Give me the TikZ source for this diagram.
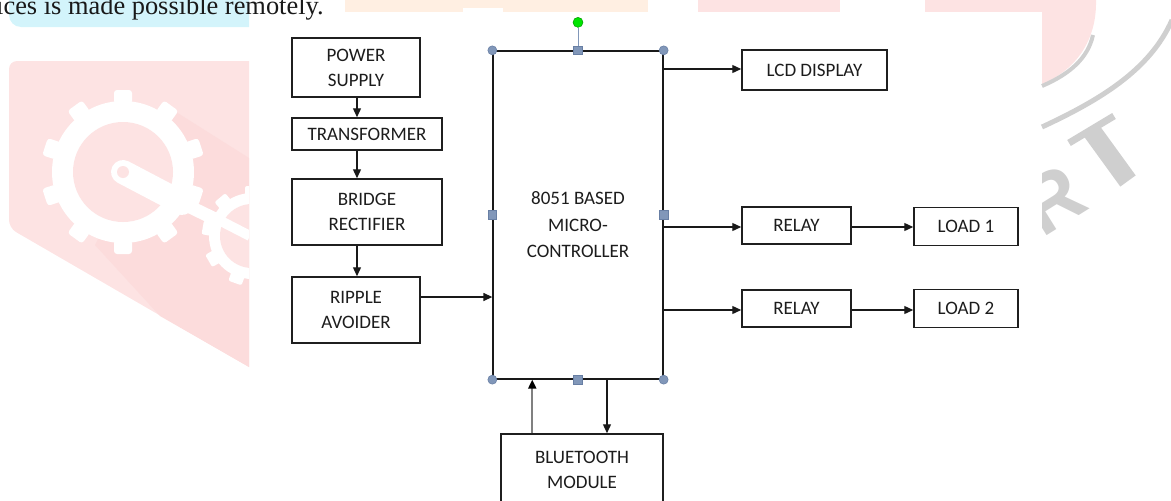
\documentclass[tikz,border=0pt]{standalone}
\usepackage{fontspec}
\setmainfont{Carlito}
\newfontfamily\serifw{Liberation Serif}
\newfontfamily\logof{Liberation Sans}
\usetikzlibrary{arrows.meta,calc}
\definecolor{wmpink}{HTML}{FDE3E3}
\definecolor{wmshade}{HTML}{FCDCDC}
\definecolor{wmblue}{HTML}{D3F4FB}
\definecolor{wmorange}{HTML}{FFEFE2}
\definecolor{wmgray}{HTML}{CFCFCF}
\definecolor{hfill}{HTML}{8197B9}
\definecolor{hdraw}{HTML}{687FA4}
\definecolor{hgreen}{HTML}{00E400}
\definecolor{txt}{HTML}{1C1C1C}
\begin{document}
\begin{tikzpicture}[x=1pt,y=-1pt,
  box/.style={draw=black!88, line width=1.5pt, align=center, text=txt,
    font=\fontsize{19}{25}\selectfont, inner sep=0pt},
  lbl/.style={align=center, text=txt, font=\fontsize{19}{26.5}\selectfont, inner sep=0pt},
  arr/.style={line width=1.3pt, draw=black!90, -{Triangle[length=9pt,width=8pt]}},
  grayarr/.style={line width=2pt, draw=black!50, -{Triangle[length=9pt,width=8pt,color=black]}},
  hcirc/.style={circle, fill=hfill, draw=hdraw, line width=0.6pt, minimum size=9pt, inner sep=0pt},
  hsq/.style={rectangle, fill=hfill, draw=hdraw, line width=0.6pt, minimum size=8.5pt, inner sep=0pt},
  hrot/.style={circle, fill=hgreen, draw=green!60!black, line width=0.5pt, minimum size=10pt, inner sep=0pt}]
\useasboundingbox (0,0) rectangle (1171,501);

% ---------- watermark background ----------
\begin{scope}
  \clip (9,0) rectangle (249,501);
  \fill[wmblue, rounded corners=12pt] (9,-20) rectangle (300,27);
  \fill[wmpink, rounded corners=8pt] (300,61) -- (9,61) -- (9,228) -- (249,367) -- (300,396) -- cycle;
  \fill[wmshade] (165,105) -- (249,158) -- (249,367) -- (160,316) -- (95,245) -- cycle;
  % big gear
  \fill[white] (123,172) circle (71);
  \foreach \a in {0,36,...,324}
    \fill[white, rounded corners=3pt, rotate around={\a:(123,172)}] (114,90) rectangle (132,104);
  \fill[wmpink] (123,172) circle (50);
  \draw[white, line width=24pt, line cap=round] (123,172) -- (182,203);
  \draw[white, line width=13pt] (182,203) -- (250,236);
  \fill[wmpink] (123,172) circle (6);
  % small gear
  \fill[white] (252,236) circle (43);
  \foreach \a in {0,40,...,320}
    \fill[white, rounded corners=2pt, rotate around={\a:(252,236)}] (245,186) rectangle (259,196);
  \fill[wmpink] (252,236) circle (32);
  \draw[white, line width=10pt] (215,218) -- (250,236);
\end{scope}
\fill[wmorange] (345,0) rectangle (648,12);
\fill[white] (463,8) rectangle (503,12);
\fill[wmpink] (698,0) rectangle (840,12);
\fill[wmpink] (925,0) rectangle (1042,12);
\fill[wmpink] (1042,0) -- (1096,0) .. controls (1097,40) and (1076,70) .. (1042,84) -- cycle;
\draw[wmgray, line width=4pt] (1093,35) .. controls (1088,58) and (1070,74) .. (1042,86);
\draw[wmgray, line width=5pt] (1042,127) .. controls (1100,100) and (1150,70) .. (1172,20);
\begin{scope}
  \clip (1042,12) rectangle (1171,501);
  \node[rotate=32, text=wmgray, inner sep=0pt, font=\logof\bfseries\fontsize{80}{80}\selectfont] (rr) at (1052,200) {R};
  \draw[wmgray, line width=19pt] (1091,130) -- (1128,181);
  \draw[wmgray, line width=7pt] (1069,143) -- (1114,116);
\end{scope}
\node[anchor=base west, inner sep=0pt, text=black!90, font=\serifw\fontsize{26.4}{30}\selectfont] (toptext) at (-4,14) {ices is made possible remotely.};

% ---------- blocks ----------
\node[box, minimum width=128pt, minimum height=59pt] (ps) at (356,67.5) {POWER\\SUPPLY};
\node[box, minimum width=150pt, minimum height=32pt] (tr) at (367,134) {TRANSFORMER};
\node[box, minimum width=150pt, minimum height=66pt] (br) at (367,212) {BRIDGE\\RECTIFIER};
\node[box, minimum width=128pt, minimum height=66pt] (ra) at (356,310) {RIPPLE\\AVOIDER};
\node[draw=black!90, line width=1.3pt, minimum width=170pt, minimum height=328pt, inner sep=0pt] (mcu) at (578,215) {};
\node[lbl] (mcut) at (578,225) {8051 BASED\\MICRO-\\CONTROLLER};
\node[box, minimum width=145pt, minimum height=40pt] (lcd) at (814.5,70) {LCD DISPLAY};
\node[box, minimum width=109pt, minimum height=37pt] (r1) at (796.5,225.5) {RELAY};
\node[box, minimum width=104pt, minimum height=38pt] (l1) at (966,226.5) {LOAD 1};
\node[box, minimum width=109pt, minimum height=37pt] (r2) at (796.5,308.5) {RELAY};
\node[box, minimum width=104pt, minimum height=38pt] (l2) at (966,308.5) {LOAD 2};
\node[box, minimum width=162pt, minimum height=72pt] (bt) at (582,470) {BLUETOOTH\\MODULE};

% ---------- connectors ----------
\draw[arr] ([xshift=1pt]ps.south) -- ([xshift=1pt]ps.south |- tr.north);
\coordinate (c2) at ([xshift=1pt]tr.south -| ra.north);
\draw[arr] (c2) -- (c2 |- br.north);
\coordinate (c3) at ([xshift=1pt]br.south -| ra.north);
\draw[arr] (c3) -- (c3 |- ra.north);
\draw[arr] ([yshift=13pt]ra.east) -- ([yshift=13pt]ra.east -| mcu.west);
\coordinate (c4) at ([yshift=1pt]mcu.east |- lcd.west);
\draw[arr] (c4) -- (c4 -| lcd.west);
\coordinate (c5) at ([yshift=-1.5pt]mcu.east |- r1.west);
\draw[arr] (c5) -- (c5 -| r1.west);
\draw[arr] (c5 -| r1.east) -- (c5 -| l1.west);
\coordinate (c6) at ([yshift=-1.5pt]mcu.east |- r2.west);
\draw[arr] (c6) -- (c6 -| r2.west);
\draw[arr] (c6 -| r2.east) -- (c6 -| l2.west);
\draw[grayarr] ([xshift=32pt]bt.north west) -- ([xshift=32pt]bt.north west |- mcu.south);
\draw[arr] ([xshift=29pt]mcu.south) -- ([xshift=29pt]mcu.south |- bt.north);

% ---------- selection handles ----------
\node[hrot] (rot) at ([yshift=28pt]mcu.north) {};
\draw[hfill, line width=1pt] (rot) -- (mcu.north);
\foreach \c in {north west, north east, south west, south east}
  \node[hcirc] at (mcu.\c) {};
\foreach \c in {north, south, west, east}
  \node[hsq] at (mcu.\c) {};
\end{tikzpicture}
\end{document}
